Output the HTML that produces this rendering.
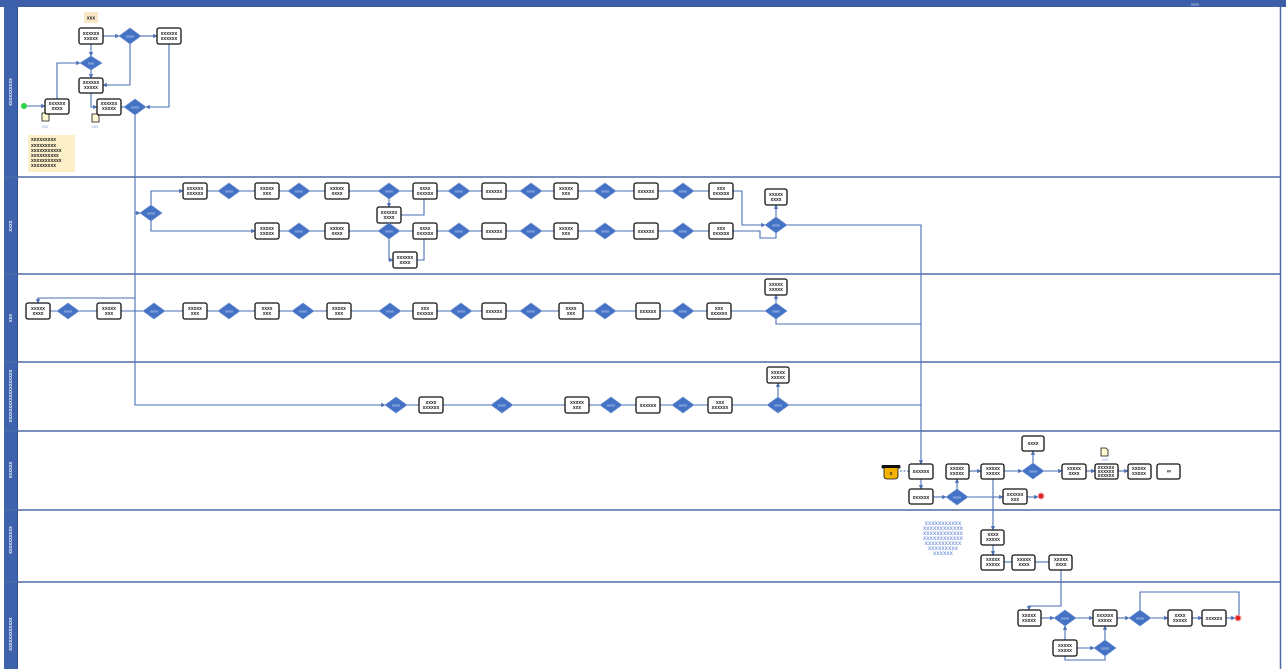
<!DOCTYPE html>
<html><head><meta charset="utf-8"><style>
html,body{margin:0;padding:0;background:#fff;width:1286px;height:669px;overflow:hidden}
svg{display:block}
.r{fill:#fff;stroke:#111;stroke-width:1.3}
.d{fill:#4472c4;stroke:#6d90d4;stroke-width:0.6}
.c{fill:none;stroke:#4a6fb5;stroke-width:1.1}
.t{font-family:"Liberation Sans",sans-serif;font-size:5px;font-weight:bold;fill:#222;text-anchor:middle}
.w{font-family:"Liberation Sans",sans-serif;font-size:4px;fill:#dfe8ff;text-anchor:middle}
.l{font-family:"Liberation Sans",sans-serif;font-size:5px;font-weight:bold;fill:#e6eeff;text-anchor:middle}
.b{font-family:"Liberation Sans",sans-serif;font-size:4.5px;fill:#8fa8e0;text-anchor:middle}
</style></head><body>
<svg width="1286" height="669" viewBox="0 0 1286 669" xmlns="http://www.w3.org/2000/svg">
<defs>
<marker id="a" markerWidth="4" markerHeight="4" refX="3.5" refY="2" orient="auto"><path d="M0,0 L4,2 L0,4 z" fill="#4a6fb5"/></marker>
</defs>
<!-- frame -->
<rect x="0" y="0" width="1286" height="7" fill="#3d5ea8"/>
<text x="1195" y="5.5" class="w">xxxx</text>
<rect x="4" y="7" width="13" height="662" fill="#3f62ad"/>
<line x1="17.5" y1="7" x2="17.5" y2="669" stroke="#2f4f96" stroke-width="1"/>
<line x1="1280.5" y1="7" x2="1280.5" y2="669" stroke="#4d6aa6" stroke-width="1.5"/>
<g stroke="#4d6aa6" stroke-width="1.6">
<line x1="4" y1="177" x2="1281" y2="177"/>
<line x1="4" y1="274" x2="1281" y2="274"/>
<line x1="4" y1="362" x2="1281" y2="362"/>
<line x1="4" y1="431" x2="1281" y2="431"/>
<line x1="4" y1="510" x2="1281" y2="510"/>
<line x1="4" y1="582" x2="1281" y2="582"/>
</g>
<!-- lane labels -->
<text class="l" transform="translate(12,92) rotate(-90)">xxxxxxxxxx</text>
<text class="l" transform="translate(12,226) rotate(-90)">xxxx</text>
<text class="l" transform="translate(12,318) rotate(-90)">xxx</text>
<text class="l" transform="translate(12,396) rotate(-90)">xxxxxxxxxxxxxxxxxxx</text>
<text class="l" transform="translate(12,470) rotate(-90)">xxxxxx</text>
<text class="l" transform="translate(12,540) rotate(-90)">xxxxxxxxxx</text>
<text class="l" transform="translate(12,634) rotate(-90)">xxxxxxxxxxxx</text>

<!-- connectors -->
<g class="c">
<polyline points="103,36 119,36" marker-end="url(#a)"/>
<polyline points="141,36 157,36" marker-end="url(#a)"/>
<polyline points="91,44 91,56" marker-end="url(#a)"/>
<polyline points="130,44 130,85 103,85" marker-end="url(#a)"/>
<polyline points="57,99 57,63 80,63" marker-end="url(#a)"/>
<polyline points="91,70 91,78" marker-end="url(#a)"/>
<polyline points="91,93 91,107 97,107" marker-end="url(#a)"/>
<polyline points="27,106 45,106" marker-end="url(#a)"/>
<polyline points="121,107 124,107"/>
<polyline points="169,44 169,107 146,107" marker-end="url(#a)"/>
<polyline points="135,115 135,405 385,405" marker-end="url(#a)"/>
<polyline points="135,213 140,213" marker-end="url(#a)"/>
<polyline points="135,298 38,298 38,303" marker-end="url(#a)"/>
<!-- lane 2 -->
<polyline points="151,205 151,191 183,191" marker-end="url(#a)"/>
<polyline points="151,221 151,231 255,231" marker-end="url(#a)"/>
<polyline points="207,191 733,191"/>
<polyline points="279,231 733,231"/>
<polyline points="733,191 742,191 742,225 765,225" marker-end="url(#a)"/>
<polyline points="733,231 760,231 760,238 776,238 776,233"/>
<polyline points="776,217 776,205" marker-end="url(#a)"/>
<polyline points="787,225 921,225 921,464" marker-end="url(#a)"/>
<polyline points="389,199 389,207" marker-end="url(#a)"/>
<polyline points="401,215 424,215 424,199"/>
<polyline points="389,239 389,260 393,260" marker-end="url(#a)"/>
<polyline points="417,260 424,260 424,239"/>
<!-- lane 3 -->
<polyline points="50,311 765,311"/>
<polyline points="776,303 776,295" marker-end="url(#a)"/>
<polyline points="776,319 776,324 921,324"/>
<!-- lane 4 -->
<polyline points="385,405 767,405"/>
<polyline points="778,397 778,383" marker-end="url(#a)"/>
<polyline points="789,405 921,405"/>
<!-- lane 5 -->
<polyline points="921,479 921,489" marker-end="url(#a)"/>
<polyline points="900,471 909,471" stroke-dasharray="2,1.5"/>
<polyline points="933,497 946,497" marker-end="url(#a)"/>
<polyline points="957,489 957,479" marker-end="url(#a)"/>
<polyline points="969,471 981,471" marker-end="url(#a)"/>
<polyline points="968,497 1003,497" marker-end="url(#a)"/>
<polyline points="1027,497 1038,497" marker-end="url(#a)"/>
<polyline points="993,479 993,530" marker-end="url(#a)"/>
<polyline points="1004,471 1022,471" marker-end="url(#a)"/>
<polyline points="1033,463 1033,451" marker-end="url(#a)"/>
<polyline points="1044,471 1062,471" marker-end="url(#a)"/>
<polyline points="1086,471 1095,471" marker-end="url(#a)"/>
<polyline points="1118,471 1128,471" marker-end="url(#a)"/>
<!-- lane 6 -->
<polyline points="993,545 993,555" marker-end="url(#a)"/>
<polyline points="1004,562 1012,562"/>
<polyline points="1035,562 1049,562"/>
<polyline points="1061,570 1061,606 1029,606 1029,610" marker-end="url(#a)"/>
<!-- lane 7 -->
<polyline points="1041,618 1054,618" marker-end="url(#a)"/>
<polyline points="1076,618 1093,618" marker-end="url(#a)"/>
<polyline points="1117,618 1129,618" marker-end="url(#a)"/>
<polyline points="1151,618 1168,618" marker-end="url(#a)"/>
<polyline points="1192,618 1202,618" marker-end="url(#a)"/>
<polyline points="1226,618 1235,618" marker-end="url(#a)"/>
<polyline points="1140,610 1140,592 1239,592 1239,615"/>
<polyline points="1065,640 1065,626" marker-end="url(#a)"/>
<polyline points="1077,648 1094,648" marker-end="url(#a)"/>
<polyline points="1105,640 1105,626" marker-end="url(#a)"/>
<polyline points="1065,656 1065,660 1105,660 1105,656"/>
</g>

<!-- lane 1 extras -->
<rect x="84" y="12" width="14" height="11" fill="#f9e6c4"/>
<text x="91" y="19.5" class="t">xxx</text>
<circle cx="24" cy="106" r="3" fill="#2fcf4a"/>
<path d="M42,113 h5 l2,2 v6 h-7 z" fill="#fffbd0" stroke="#111" stroke-width="0.8"/>
<text x="45" y="128" class="b">xxx</text>
<path d="M92,114 h5 l2,2 v6 h-7 z" fill="#fffbd0" stroke="#111" stroke-width="0.8"/>
<text x="95" y="128" class="b">xxx</text>
<rect x="28" y="135" width="47" height="37" fill="#fdefc8"/>
<g class="t" style="text-anchor:start">
<text x="31" y="141">xxxxxxxxx</text>
<text x="31" y="147">xxxxxxxxx</text>
<text x="31" y="152">xxxxxxxxxxx</text>
<text x="31" y="157">xxxxxxxxxx</text>
<text x="31" y="162">xxxxxxxxxxx</text>
<text x="31" y="167">xxxxxxxxx</text>
</g>

<!-- lane 5 extras -->
<path d="M882,466 h18 v2 h-2 v8 q0,3 -3,3 h-8 q-3,0 -3,-3 v-8 h-2 z" fill="#f2b300" stroke="#111" stroke-width="0.8"/>
<rect x="882" y="465" width="18" height="3" fill="#111"/>
<text x="891" y="475" class="t">x</text>
<path d="M1101,448 h5 l2,2 v6 h-7 z" fill="#fffbd0" stroke="#111" stroke-width="0.8"/>
<text x="1105" y="461" class="b">xxx</text>
<circle cx="1041" cy="496" r="3.5" fill="#f3a0a0"/>
<circle cx="1041" cy="496" r="2.3" fill="#e02020"/>
<circle cx="1238" cy="618" r="3.5" fill="#f3a0a0"/>
<circle cx="1238" cy="618" r="2.3" fill="#e02020"/>
<g class="b" style="font-size:6px;font-weight:bold;fill:#86a3e2">
<text x="943" y="525">xxxxxxxxxxx</text>
<text x="943" y="530">xxxxxxxxxxxx</text>
<text x="943" y="535">xxxxxxxxxxxx</text>
<text x="943" y="540">xxxxxxxxxxxx</text>
<text x="943" y="545">xxxxxxxxxxx</text>
<text x="943" y="550">xxxxxxxxx</text>
<text x="943" y="555">xxxxxx</text>
</g>

<!-- rectangles -->
<g>
<rect class="r" x="79" y="28" width="24" height="16" rx="2"/>
<rect class="r" x="157" y="28" width="24" height="16" rx="2"/>
<rect class="r" x="79" y="78" width="24" height="15" rx="2"/>
<rect class="r" x="45" y="99" width="24" height="15" rx="2"/>
<rect class="r" x="97" y="99" width="24" height="16" rx="2"/>

<rect class="r" x="183" y="183" width="24" height="16" rx="2"/>
<rect class="r" x="255" y="183" width="24" height="16" rx="2"/>
<rect class="r" x="325" y="183" width="24" height="16" rx="2"/>
<rect class="r" x="413" y="183" width="24" height="16" rx="2"/>
<rect class="r" x="482" y="183" width="24" height="16" rx="2"/>
<rect class="r" x="554" y="183" width="24" height="16" rx="2"/>
<rect class="r" x="634" y="183" width="24" height="16" rx="2"/>
<rect class="r" x="709" y="183" width="24" height="16" rx="2"/>
<rect class="r" x="377" y="207" width="24" height="16" rx="2"/>
<rect class="r" x="393" y="252" width="24" height="16" rx="2"/>
<rect class="r" x="765" y="189" width="22" height="16" rx="2"/>
<rect class="r" x="255" y="223" width="24" height="16" rx="2"/>
<rect class="r" x="325" y="223" width="24" height="16" rx="2"/>
<rect class="r" x="413" y="223" width="24" height="16" rx="2"/>
<rect class="r" x="482" y="223" width="24" height="16" rx="2"/>
<rect class="r" x="554" y="223" width="24" height="16" rx="2"/>
<rect class="r" x="634" y="223" width="24" height="16" rx="2"/>
<rect class="r" x="709" y="223" width="24" height="16" rx="2"/>

<rect class="r" x="26" y="303" width="24" height="16" rx="2"/>
<rect class="r" x="97" y="303" width="24" height="16" rx="2"/>
<rect class="r" x="183" y="303" width="24" height="16" rx="2"/>
<rect class="r" x="255" y="303" width="24" height="16" rx="2"/>
<rect class="r" x="327" y="303" width="24" height="16" rx="2"/>
<rect class="r" x="413" y="303" width="24" height="16" rx="2"/>
<rect class="r" x="482" y="303" width="24" height="16" rx="2"/>
<rect class="r" x="559" y="303" width="24" height="16" rx="2"/>
<rect class="r" x="636" y="303" width="24" height="16" rx="2"/>
<rect class="r" x="707" y="303" width="24" height="16" rx="2"/>
<rect class="r" x="765" y="279" width="22" height="16" rx="2"/>

<rect class="r" x="419" y="397" width="24" height="16" rx="2"/>
<rect class="r" x="565" y="397" width="24" height="16" rx="2"/>
<rect class="r" x="636" y="397" width="24" height="16" rx="2"/>
<rect class="r" x="708" y="397" width="24" height="16" rx="2"/>
<rect class="r" x="767" y="367" width="22" height="16" rx="2"/>

<rect class="r" x="909" y="464" width="24" height="15" rx="2"/>
<rect class="r" x="909" y="489" width="24" height="15" rx="2"/>
<rect class="r" x="946" y="464" width="23" height="15" rx="2"/>
<rect class="r" x="981" y="464" width="23" height="15" rx="2"/>
<rect class="r" x="1003" y="489" width="24" height="15" rx="2"/>
<rect class="r" x="1022" y="436" width="22" height="15" rx="2"/>
<rect class="r" x="1062" y="464" width="24" height="15" rx="2"/>
<rect class="r" x="1095" y="464" width="23" height="15" rx="2"/>
<rect class="r" x="1128" y="464" width="23" height="15" rx="2"/>
<rect class="r" x="1157" y="464" width="23" height="15" rx="2"/>

<rect class="r" x="981" y="530" width="23" height="15" rx="2"/>
<rect class="r" x="981" y="555" width="23" height="15" rx="2"/>
<rect class="r" x="1012" y="555" width="23" height="15" rx="2"/>
<rect class="r" x="1049" y="555" width="23" height="15" rx="2"/>

<rect class="r" x="1018" y="610" width="23" height="16" rx="2"/>
<rect class="r" x="1093" y="610" width="24" height="16" rx="2"/>
<rect class="r" x="1168" y="610" width="24" height="16" rx="2"/>
<rect class="r" x="1202" y="610" width="24" height="16" rx="2"/>
<rect class="r" x="1053" y="640" width="24" height="16" rx="2"/>
</g>

<!-- rect labels -->
<g class="t">
<text x="91" y="35">xxxxxx</text><text x="91" y="40">xxxxx</text>
<text x="169" y="35">xxxxxx</text><text x="169" y="40">xxxxxx</text>
<text x="91" y="84">xxxxxx</text><text x="91" y="89">xxxxx</text>
<text x="57" y="105">xxxxxx</text><text x="57" y="110">xxxx</text>
<text x="109" y="105">xxxxxx</text><text x="109" y="110">xxxxx</text>
<text x="195" y="190">xxxxxx</text><text x="195" y="195">xxxxxx</text>
<text x="267" y="190">xxxxx</text><text x="267" y="195">xxx</text>
<text x="337" y="190">xxxxx</text><text x="337" y="195">xxxx</text>
<text x="425" y="190">xxxx</text><text x="425" y="195">xxxxxx</text>
<text x="494" y="193">xxxxxx</text>
<text x="566" y="190">xxxxx</text><text x="566" y="195">xxx</text>
<text x="646" y="193">xxxxxx</text>
<text x="721" y="190">xxx</text><text x="721" y="195">xxxxxx</text>
<text x="389" y="214">xxxxxx</text><text x="389" y="219">xxxx</text>
<text x="405" y="259">xxxxxx</text><text x="405" y="264">xxxx</text>
<text x="776" y="196">xxxxx</text><text x="776" y="201">xxxx</text>
<text x="267" y="230">xxxxx</text><text x="267" y="235">xxxxx</text>
<text x="337" y="230">xxxxx</text><text x="337" y="235">xxxx</text>
<text x="425" y="230">xxxx</text><text x="425" y="235">xxxxxx</text>
<text x="494" y="233">xxxxxx</text>
<text x="566" y="230">xxxxx</text><text x="566" y="235">xxx</text>
<text x="646" y="233">xxxxxx</text>
<text x="721" y="230">xxx</text><text x="721" y="235">xxxxxx</text>
<text x="38" y="310">xxxxx</text><text x="38" y="315">xxxx</text>
<text x="109" y="310">xxxxx</text><text x="109" y="315">xxx</text>
<text x="195" y="310">xxxxx</text><text x="195" y="315">xxx</text>
<text x="267" y="310">xxxx</text><text x="267" y="315">xxx</text>
<text x="339" y="310">xxxxx</text><text x="339" y="315">xxx</text>
<text x="425" y="310">xxx</text><text x="425" y="315">xxxxxx</text>
<text x="494" y="313">xxxxxx</text>
<text x="571" y="310">xxxx</text><text x="571" y="315">xxx</text>
<text x="648" y="313">xxxxxx</text>
<text x="719" y="310">xxx</text><text x="719" y="315">xxxxxx</text>
<text x="776" y="286">xxxxx</text><text x="776" y="291">xxxxx</text>
<text x="431" y="404">xxxx</text><text x="431" y="409">xxxxxx</text>
<text x="577" y="404">xxxxx</text><text x="577" y="409">xxx</text>
<text x="648" y="407">xxxxxx</text>
<text x="720" y="404">xxx</text><text x="720" y="409">xxxxxx</text>
<text x="778" y="374">xxxxx</text><text x="778" y="379">xxxxx</text>
<text x="921" y="473">xxxxxx</text>
<text x="921" y="499">xxxxxx</text>
<text x="957" y="470">xxxxx</text><text x="957" y="475">xxxxx</text>
<text x="993" y="470">xxxxx</text><text x="993" y="475">xxxxx</text>
<text x="1015" y="496">xxxxxx</text><text x="1015" y="501">xxx</text>
<text x="1033" y="445">xxxx</text>
<text x="1074" y="470">xxxxx</text><text x="1074" y="475">xxxx</text>
<text x="1106" y="469">xxxxxx</text><text x="1106" y="473">xxxxxx</text><text x="1106" y="477">xxxxxx</text>
<text x="1139" y="470">xxxxx</text><text x="1139" y="475">xxxxx</text>
<text x="1169" y="473" style="font-size:6px;fill:#222">∞</text>
<text x="993" y="536">xxxx</text><text x="993" y="541">xxxxx</text>
<text x="993" y="561">xxxxx</text><text x="993" y="566">xxxxx</text>
<text x="1024" y="561">xxxxx</text><text x="1024" y="566">xxxx</text>
<text x="1061" y="561">xxxxx</text><text x="1061" y="566">xxxx</text>
<text x="1029" y="617">xxxxx</text><text x="1029" y="622">xxxxx</text>
<text x="1105" y="617">xxxxxx</text><text x="1105" y="622">xxxxx</text>
<text x="1180" y="617">xxxx</text><text x="1180" y="622">xxxxx</text>
<text x="1214" y="620">xxxxxx</text>
<text x="1065" y="647">xxxxx</text><text x="1065" y="652">xxxxx</text>
</g>

<!-- diamonds -->
<g class="d">
<polygon points="119,36 130,28 141,36 130,44"/>
<polygon points="80,63 91,56 102,63 91,70"/>
<polygon points="124,107 135,99 146,107 135,115"/>
<polygon points="140,213 151,205 162,213 151,221"/>
<polygon points="218,191 229,183 240,191 229,199"/>
<polygon points="288,191 299,183 310,191 299,199"/>
<polygon points="378,191 389,183 400,191 389,199"/>
<polygon points="448,191 459,183 470,191 459,199"/>
<polygon points="520,191 531,183 542,191 531,199"/>
<polygon points="594,191 605,183 616,191 605,199"/>
<polygon points="672,191 683,183 694,191 683,199"/>
<polygon points="288,231 299,223 310,231 299,239"/>
<polygon points="378,231 389,223 400,231 389,239"/>
<polygon points="448,231 459,223 470,231 459,239"/>
<polygon points="520,231 531,223 542,231 531,239"/>
<polygon points="594,231 605,223 616,231 605,239"/>
<polygon points="672,231 683,223 694,231 683,239"/>
<polygon points="765,225 776,217 787,225 776,233"/>
<polygon points="57,311 68,303 79,311 68,319"/>
<polygon points="143,311 154,303 165,311 154,319"/>
<polygon points="218,311 229,303 240,311 229,319"/>
<polygon points="292,311 303,303 314,311 303,319"/>
<polygon points="379,311 390,303 401,311 390,319"/>
<polygon points="450,311 461,303 472,311 461,319"/>
<polygon points="520,311 531,303 542,311 531,319"/>
<polygon points="594,311 605,303 616,311 605,319"/>
<polygon points="672,311 683,303 694,311 683,319"/>
<polygon points="765,311 776,303 787,311 776,319"/>
<polygon points="385,405 396,397 407,405 396,413"/>
<polygon points="491,405 502,397 513,405 502,413"/>
<polygon points="600,405 611,397 622,405 611,413"/>
<polygon points="672,405 683,397 694,405 683,413"/>
<polygon points="767,405 778,397 789,405 778,413"/>
<polygon points="946,497 957,489 968,497 957,505"/>
<polygon points="1022,471 1033,463 1044,471 1033,479"/>
<polygon points="1054,618 1065,610 1076,618 1065,626"/>
<polygon points="1129,618 1140,610 1151,618 1140,626"/>
<polygon points="1094,648 1105,640 1116,648 1105,656"/>
</g>
<g class="w">
<text x="130" y="37.5">xxxx</text><text x="91" y="64.5">xxx</text><text x="135" y="108.5">xxxx</text>
<text x="151" y="214.5">xxxx</text>
<text x="229" y="192.5">xxxx</text><text x="299" y="192.5">xxxx</text><text x="389" y="192.5">xxxx</text><text x="459" y="192.5">xxxx</text><text x="531" y="192.5">xxxx</text><text x="605" y="192.5">xxxx</text><text x="683" y="192.5">xxxx</text>
<text x="299" y="232.5">xxxx</text><text x="389" y="232.5">xxxx</text><text x="459" y="232.5">xxxx</text><text x="531" y="232.5">xxxx</text><text x="605" y="232.5">xxxx</text><text x="683" y="232.5">xxxx</text>
<text x="776" y="226.5">xxxx</text>
<text x="68" y="312.5">xxxx</text><text x="154" y="312.5">xxxx</text><text x="229" y="312.5">xxxx</text><text x="303" y="312.5">xxxx</text><text x="390" y="312.5">xxxx</text><text x="461" y="312.5">xxxx</text><text x="531" y="312.5">xxxx</text><text x="605" y="312.5">xxxx</text><text x="683" y="312.5">xxxx</text><text x="776" y="312.5">xxxx</text>
<text x="396" y="406.5">xxxx</text><text x="502" y="406.5">xxxx</text><text x="611" y="406.5">xxxx</text><text x="683" y="406.5">xxxx</text><text x="778" y="406.5">xxxx</text>
<text x="957" y="498.5">xxxx</text><text x="1033" y="472.5">xxxx</text>
<text x="1065" y="619.5">xxxx</text><text x="1140" y="619.5">xxxx</text><text x="1105" y="649.5">xxxx</text>
</g>
</svg>
</body></html>
